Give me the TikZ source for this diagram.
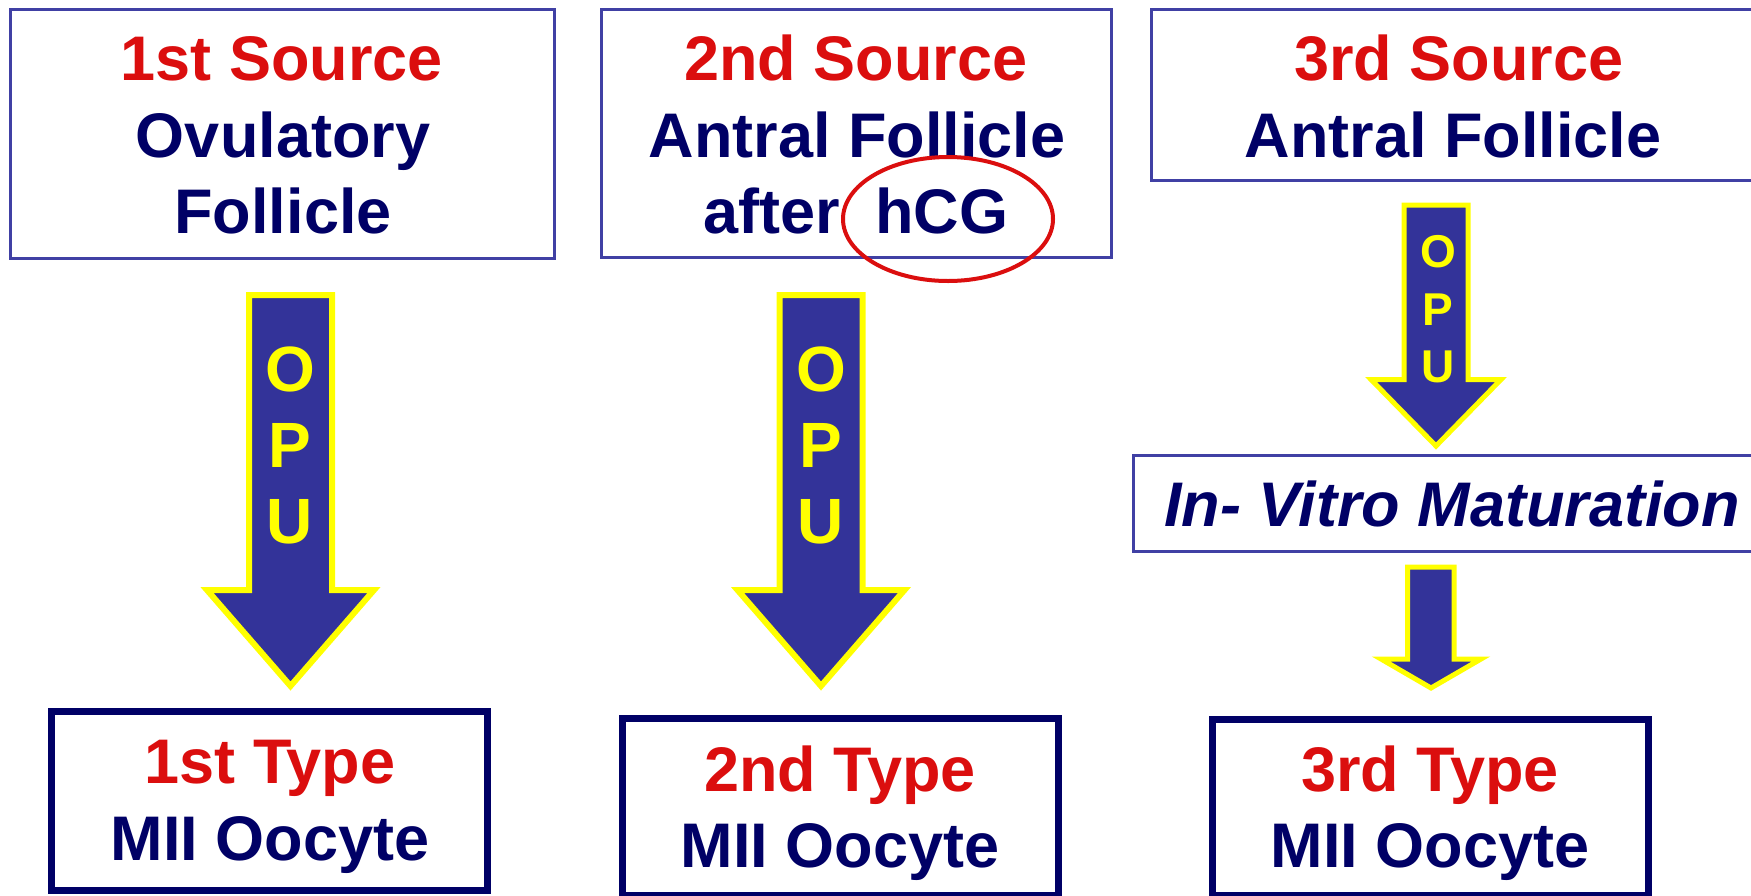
\documentclass[tikz,border=0pt]{standalone}
\usepackage{fontspec}
\setmainfont{Liberation Sans}
\usetikzlibrary{shapes.geometric}
\definecolor{srcred}{RGB}{219,14,14}
\definecolor{navy}{RGB}{0,0,102}
\definecolor{boxblue}{RGB}{64,64,164}
\definecolor{arrowblue}{RGB}{51,51,153}
\definecolor{opuyellow}{RGB}{255,255,0}
\begin{document}
\begin{tikzpicture}[x=1pt,y=-1pt,
  srcbox/.style={draw=boxblue, line width=3pt, inner sep=0pt},
  typebox/.style={draw=navy, line width=7pt, inner sep=0pt},
  big/.style={inner sep=0pt, anchor=base, font=\bfseries\fontsize{63}{76}\selectfont},
  redtxt/.style={big, text=srcred},
  navytxt/.style={big, text=navy},
  opu/.style={inner sep=0pt, anchor=base, text=opuyellow, font=\bfseries\fontsize{64}{76}\selectfont},
  opusmall/.style={inner sep=0pt, anchor=base, text=opuyellow, font=\bfseries\fontsize{46}{56}\selectfont},
  blockarrow/.style={fill=arrowblue, draw=opuyellow, line width=6pt, line join=miter},
  blockarrowsmall/.style={fill=arrowblue, draw=opuyellow, line width=5pt, line join=miter}
]
\useasboundingbox (0,0) rectangle (1751,895);
\fill[white] (0,0) rectangle (1751,895);

% source boxes
\node[srcbox, minimum width=544pt, minimum height=249pt] (s1) at (282,133.5) {};
\node[srcbox, minimum width=510pt, minimum height=248pt] (s2) at (856.5,133.5) {};
\node[srcbox, minimum width=615pt, minimum height=171pt] (s3) at (1459,95) {};

\node[redtxt]  (s1a) at (282,80)  {1st Source};
\node[navytxt] (s1b) at (283,157) {Ovulatory};
\node[navytxt] (s1c) at (283,233) {Follicle};

\node[redtxt]  (s2a) at (856,80)  {2nd Source};
\node[navytxt] (s2b) at (857,157) {Antral Follicle};
\node[navytxt] (s2c) at (856,233) {after~~hCG};

\node[redtxt]  (s3a) at (1459,80)  {3rd Source};
\node[navytxt] (s3b) at (1453,157) {Antral Follicle};

% hCG ellipse
\node[draw=srcred, line width=4pt, ellipse, minimum width=210pt, minimum height=124pt, inner sep=0pt] (hcg) at (948,219) {};

% IVM box
\node[srcbox, minimum width=638pt, minimum height=96pt] (ivm) at (1452.75,503) {};
\node[inner sep=0pt, anchor=base, text=navy, font=\bfseries\itshape\fontsize{63}{76}\selectfont] (ivmt) at (1452,526) {In- Vitro Maturation};

% type boxes
\node[typebox, minimum width=436pt, minimum height=179pt] (t1) at (269,800.5) {};
\node[typebox, minimum width=436pt, minimum height=176.5pt] (t2) at (840.5,806.75) {};
\node[typebox, minimum width=436.5pt, minimum height=175.5pt] (t3) at (1430.25,807.25) {};

\node[redtxt]  (t1a) at (270,783) {1st Type};
\node[navytxt] (t1b) at (270,860) {MII Oocyte};
\node[redtxt]  (t2a) at (840,791) {2nd Type};
\node[navytxt] (t2b) at (840,867) {MII Oocyte};
\node[redtxt]  (t3a) at (1430,791) {3rd Type};
\node[navytxt] (t3b) at (1430,867) {MII Oocyte};

% arrow 1
\draw[blockarrow] (249,295) -- (332,295) -- (332,590) -- (374,590) -- (290.5,686) -- (207,590) -- (249,590) -- cycle;
\node[opu] (o1) at (290,391) {O};
\node[opu] (p1) at (290,467) {P};
\node[opu] (u1) at (290,543) {U};

% arrow 2
\draw[blockarrow] (779.5,295) -- (862.5,295) -- (862.5,590) -- (904.5,590) -- (821,686) -- (737.5,590) -- (779.5,590) -- cycle;
\node[opu] (o2) at (821,391) {O};
\node[opu] (p2) at (821,467) {P};
\node[opu] (u2) at (821,543) {U};

% arrow 3
\draw[blockarrowsmall] (1404,205) -- (1468,205) -- (1468,379.5) -- (1501,379.5) -- (1436,446) -- (1371,379.5) -- (1404,379.5) -- cycle;
\node[opusmall] (o3) at (1438,267) {O};
\node[opusmall] (p3) at (1438,325) {P};
\node[opusmall] (u3) at (1438,382) {U};

% arrow 4
\draw[blockarrowsmall] (1407.5,567) -- (1454,567) -- (1454,659) -- (1481,659) -- (1431,688) -- (1381,659) -- (1407.5,659) -- cycle;
\end{tikzpicture}
\end{document}
